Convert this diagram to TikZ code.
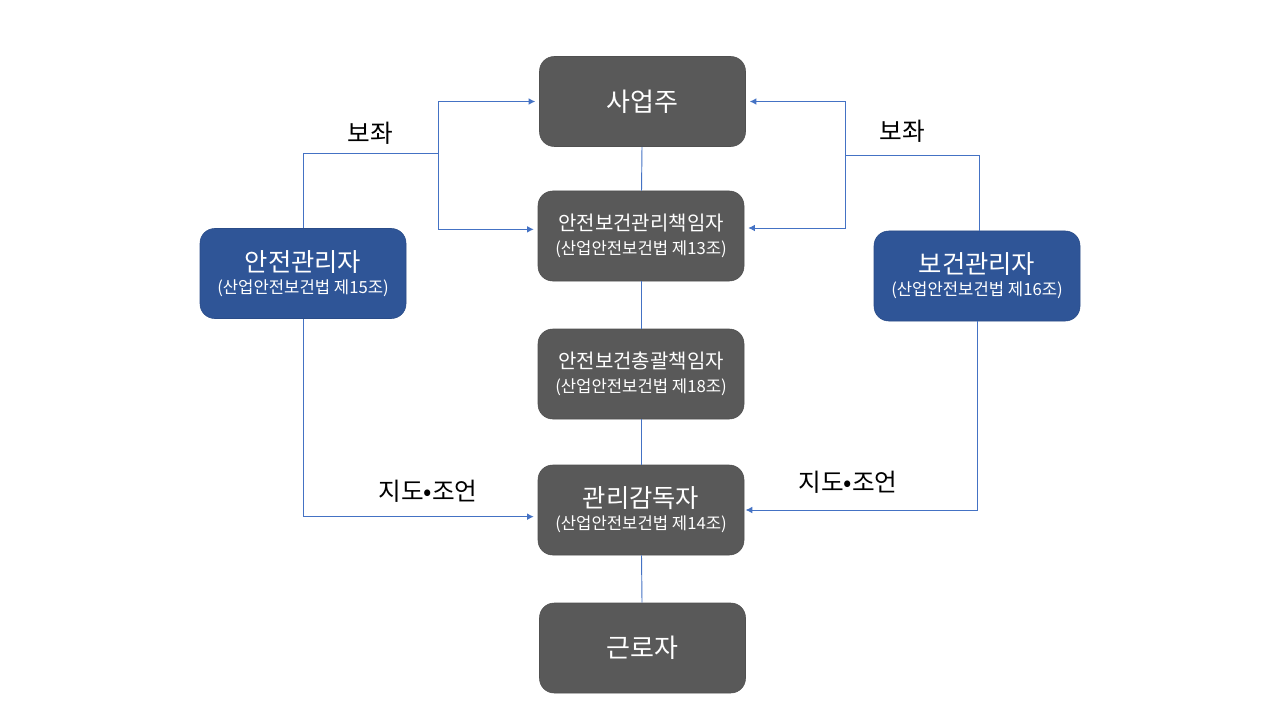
\documentclass[tikz,border=0pt]{standalone}
\usepackage{fontspec}
\setmainfont{Noto Sans CJK KR}
\usetikzlibrary{arrows.meta,calc}
\definecolor{boxgray}{HTML}{595959}
\definecolor{boxblue}{HTML}{2F5597}
\definecolor{linkblue}{HTML}{4472C4}
\newcommand{\mainsz}{\fontsize{19pt}{21pt}\selectfont}
\newcommand{\midsz}{\fontsize{15pt}{17pt}\selectfont}
\newcommand{\subsz}{\fontsize{12.5pt}{14pt}\selectfont}
\begin{document}
\begin{tikzpicture}[x=0.75pt,y=-0.75pt,
  graybox/.style={draw=boxgray!90!black,fill=boxgray,text=white,rounded corners=11pt,
    minimum width=154.5pt,minimum height=67.5pt,align=center,inner sep=0pt},
  bluebox/.style={graybox,draw=boxblue!90!black,fill=boxblue},
  conn/.style={draw=linkblue,line width=0.7pt},
  arr/.style={conn,-{Latex[length=5pt,width=5pt]}},
  lbl/.style={text=black,font=\fontsize{18.5pt}{20pt}\selectfont}]
\useasboundingbox (0,0) rectangle (1280,720);
\fill[white] (0,0) rectangle (1280,720);

\node[graybox] (saup) at (642.5,101.5) {\fontsize{19.5pt}{21pt}\selectfont 사업주};
\node[graybox] (chaek) at (641,236) {\midsz 안전보건관리책임자\\[5.5pt]\subsz (산업안전보건법 제13조)};
\node[graybox] (chong) at (641,374) {\midsz 안전보건총괄책임자\\[5.5pt]\subsz (산업안전보건법 제18조)};
\node[graybox] (gamdok) at (641,510) {\mainsz 관리감독자\\[4.5pt]\subsz (산업안전보건법 제14조)};
\node[graybox] (worker) at (642.5,648) {\fontsize{19.5pt}{21pt}\selectfont 근로자};
\node[bluebox] (anjeon) at (303,273.5) {\mainsz 안전관리자\\[4.5pt]\subsz (산업안전보건법 제15조)};
\node[bluebox] (bogeon) at (977,276) {\mainsz 보건관리자\\[4.5pt]\subsz (산업안전보건법 제16조)};

\coordinate (lj) at (438,153);
\coordinate (rj) at (845,155);

% vertical chain
\draw[conn] (saup) -- (chaek);
\draw[conn] (chaek) -- (chong);
\draw[conn] (chong) -- (gamdok);
\draw[conn] (gamdok) -- (worker);

% left: 보좌
\draw[conn] (anjeon.north) |- (lj);
\draw[arr,shorten >=3pt] (lj) |- (saup.west);
\draw[arr,shorten >=3pt] (lj) |- ([yshift=5pt]chaek.west);
% right: 보좌
\draw[conn] ([xshift=2pt]bogeon.north) |- (rj);
\draw[arr,shorten >=3pt] (rj) |- (saup.east);
\draw[arr,shorten >=3pt] (rj) |- ([yshift=6pt]chaek.east);

% 지도·조언
\draw[arr,shorten >=3pt] (anjeon.south) |- ([yshift=-5pt]gamdok.west);
\draw[arr,shorten >=1pt] (bogeon.south) |- (gamdok.east);

\node[lbl] (l1) at (370,133) {보좌};
\node[lbl] (l2) at (902,131) {보좌};
\node[lbl] (l3) at (428,491) {지도•조언};
\node[lbl] (l4) at (848,482) {지도•조언};
\end{tikzpicture}
\end{document}
